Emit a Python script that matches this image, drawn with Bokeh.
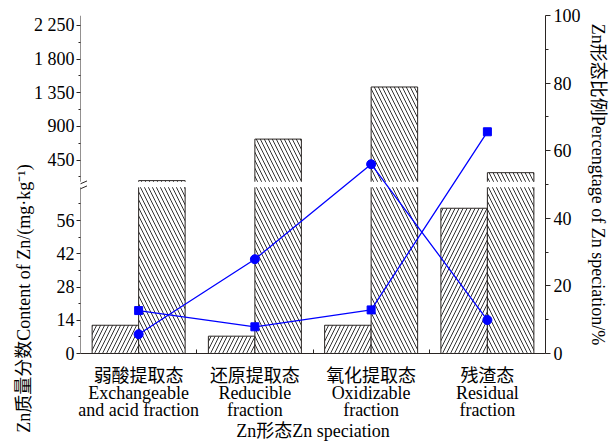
import numpy as np
from bokeh.plotting import figure
from bokeh.models import Range1d, LinearAxis, FixedTicker, Arrow
from bokeh.embed import file_html
from bokeh.resources import INLINE

# ---- data -------------------------------------------------------------
categories = [
    "弱酸提取态\nExchangeable\nand acid fraction",
    "还原提取态\nReducible\nfraction",
    "氧化提取态\nOxidizable\nfraction",
    "残渣态\nResidual\nfraction",
]
content_left = [11.9, 7.3, 11.9, 61.2]      # mg/kg, hatched "/" bars
content_right = [175, 730, 1427, 281]       # mg/kg, hatched "\" bars
pct_square = [12.7, 7.9, 12.9, 65.6]        # % of speciation (squares)
pct_circle = [5.7, 27.9, 56.0, 9.9]         # % of speciation (circles)

low_ticks = [0, 14, 28, 42, 56]
low_minor = [7, 21, 35, 49, 63]
high_ticks = [450, 900, 1350, 1800, 2250]
high_labels = ["450", "900", "1 350", "1 800", "2 250"]
high_minor = [225, 675, 1125, 1575, 2025]
pct_ticks = [0, 20, 40, 60, 80, 100]
pct_minor = [10, 30, 50, 70, 90]

x_title = "Zn形态Zn speciation"
left_title = "Zn质量分数Content of Zn/(mg·kg⁻¹)"
right_title = "Zn形态比例Percengtage of Zn speciation/%"

# ---- broken left axis: two linear segments sharing the frame ------------
LOW = (0, 142.4)          # lower segment range spread over the full frame
HIGH = (-2137, 2383)      # upper segment range spread over the full frame
LOW_TOP = 70              # lower segment ends here
HIGH_BOTTOM = 160         # upper segment starts here

# anchor tick that carries the left title ("low" units)
LEFT_TITLE_AT = 70.6


def high_to_low(v):
    return LOW[0] + (v - HIGH[0]) * (LOW[1] - LOW[0]) / (HIGH[1] - HIGH[0])


FONT = "Liberation Serif, Noto Sans CJK SC"
INK = "#2a2523"
BLUE = "#0000ff"

p = figure(width=611, height=443, x_range=Range1d(0, 4), y_range=Range1d(0, 100),
           y_axis_location="right", output_backend="svg", toolbar_location=None,
           min_border_left=80, min_border_right=66, min_border_top=15,
           min_border_bottom=89)
p.extra_y_ranges = {"low": Range1d(*LOW), "high": Range1d(*HIGH)}
p.outline_line_color = None
p.xgrid.visible = False
p.ygrid.visible = False
p.background_fill_color = "white"
p.border_fill_color = "white"

xc = np.arange(len(categories)) + 0.5
bw = 0.4
x_left = xc - bw / 2
x_right = xc + bw / 2

hatch_kw = dict(fill_color="white", line_color=None, hatch_color="#333333",
                hatch_scale=8, hatch_weight=1)


def draw_bars(xs, values, pattern):
    low_top = [min(v, LOW_TOP) for v in values]
    p.vbar(x=xs, top=low_top, bottom=0, width=bw, y_range_name="low",
           hatch_pattern=pattern, **hatch_kw)
    hi = [(x, v) for x, v in zip(xs, values) if v > LOW_TOP]
    if hi:
        p.vbar(x=[h[0] for h in hi], top=[h[1] for h in hi], bottom=HIGH_BOTTOM,
               width=bw, y_range_name="high", hatch_pattern=pattern, **hatch_kw)
    # outlines, left open where the bar crosses the break
    lx, ly, hx, hy = [], [], [], []
    for x, v in zip(xs, values):
        x0, x1 = x - bw / 2, x + bw / 2
        if v <= LOW_TOP:
            lx.append([x0, x0, x1, x1]); ly.append([0, v, v, 0])
        else:
            lx += [[x0, x0], [x1, x1]]; ly += [[0, LOW_TOP], [0, LOW_TOP]]
            hx.append([x0, x0, x1, x1]); hy.append([HIGH_BOTTOM, v, v, HIGH_BOTTOM])
    p.multi_line(lx, ly, y_range_name="low", line_color=INK, line_width=1)
    if hx:
        p.multi_line(hx, hy, y_range_name="high", line_color=INK, line_width=1)


draw_bars(x_left, content_left, "/")
draw_bars(x_right, content_right, "\\")

p.line(xc, pct_circle, line_color=BLUE, line_width=1.3)
p.line(xc, pct_square, line_color=BLUE, line_width=1.3)
p.scatter(xc, pct_circle, marker="circle", size=9, fill_color=BLUE, line_color=BLUE)
p.scatter(xc, pct_square, marker="square", size=8, fill_color=BLUE, line_color=BLUE)


# ---- axes ---------------------------------------------------------------
def style_axis(ax):
    ax.axis_line_color = INK
    ax.major_tick_line_color = INK
    ax.minor_tick_line_color = INK
    ax.major_label_text_font = FONT
    ax.major_label_text_font_size = "18px"
    ax.major_label_text_color = "black"
    ax.axis_label_text_font = FONT
    ax.axis_label_text_font_size = "18px"
    ax.axis_label_text_font_style = "normal"
    ax.axis_label_text_color = "black"


def title_axis(text, at, range_name, side, standoff):
    """a bare axis whose single label is the (bottom-to-top) axis title"""
    ax = LinearAxis(y_range_name=range_name, ticker=FixedTicker(ticks=[at], minor_ticks=[]),
                    major_label_overrides={at: text}, major_label_orientation=np.pi / 2)
    style_axis(ax)
    ax.axis_line_color = None
    ax.major_tick_line_color = None
    ax.minor_tick_line_color = None
    ax.major_tick_in = ax.major_tick_out = 0
    ax.minor_tick_in = ax.minor_tick_out = 0
    ax.major_label_standoff = standoff
    p.add_layout(ax, side)


# right: percentage
ra = p.yaxis[0]
style_axis(ra)
ra.ticker = FixedTicker(ticks=pct_ticks, minor_ticks=pct_minor)
ra.major_tick_in = 0
ra.major_tick_out = 5
ra.minor_tick_in = 0
ra.minor_tick_out = 3
ra.major_label_standoff = 3
ra.axis_label = right_title
ra.axis_label_standoff = 4

# left: broken content axis
ticks = list(low_ticks) + [round(high_to_low(v), 6) for v in high_ticks]
minor = list(low_minor) + [round(high_to_low(v), 6) for v in high_minor]
overrides = {round(high_to_low(v), 6): lab for v, lab in zip(high_ticks, high_labels)}
la = LinearAxis(y_range_name="low", ticker=FixedTicker(ticks=ticks, minor_ticks=minor),
                major_label_overrides=overrides)
style_axis(la)
la.axis_line_color = None
la.major_tick_in = 0
la.major_tick_out = 4
la.minor_tick_in = 0
la.minor_tick_out = 2
la.major_label_standoff = 2
p.add_layout(la, "left")
title_axis(left_title, LEFT_TITLE_AT, "low", "left", 6)

# axis line drawn in two pieces with the break marks
p.add_layout(Arrow(end=None, x_start=0, y_start=0, x_end=0, y_end=LOW_TOP,
                   y_range_name="low", line_color=INK, line_width=1))
p.add_layout(Arrow(end=None, x_start=0, y_start=HIGH_BOTTOM, x_end=0, y_end=HIGH[1],
                   y_range_name="high", line_color=INK, line_width=1))
for yc in (69.4, 71.5):
    p.add_layout(Arrow(end=None, x_start=-0.056, y_start=yc - 1.2, x_end=0.056,
                       y_end=yc + 1.2, y_range_name="low", line_color=INK,
                       line_width=1))

# bottom: categories, inward ticks at the category boundaries
xa = p.xaxis[0]
style_axis(xa)
xa.ticker = FixedTicker(ticks=list(xc), minor_ticks=[1, 2, 3])
xa.major_label_overrides = {float(x): c for x, c in zip(xc, categories)}
xa.major_tick_line_color = None
xa.major_tick_in = 0
xa.major_tick_out = 0
xa.minor_tick_in = 4
xa.minor_tick_out = 0
xa.major_label_standoff = 12
xa.major_label_text_line_height = 0.85
xa.axis_label = x_title
xa.axis_label_standoff = -2

open("out.html", "w").write(file_html(p, INLINE))
